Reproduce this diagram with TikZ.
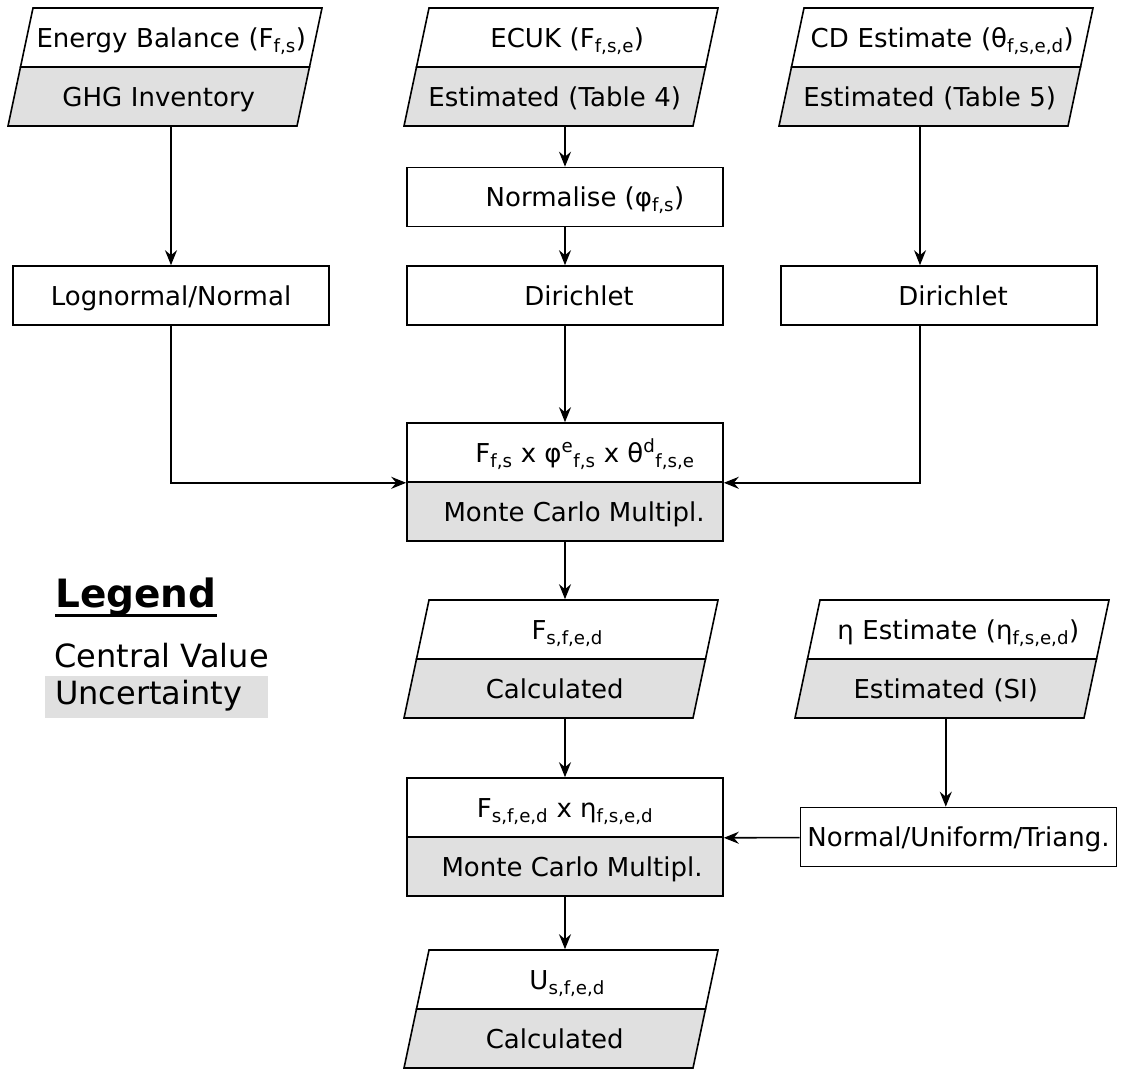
\documentclass[tikz,border=0pt]{standalone}
\usepackage{fontspec}
\setmainfont{DejaVu Sans}
\usetikzlibrary{shapes.geometric}
\usetikzlibrary{arrows.meta}
\usetikzlibrary{calc}
\definecolor{uncgray}{RGB}{224,224,224}
\tikzset{box/.style={rectangle,fill=white,draw=black,line width=1.6pt,inner sep=0pt,
minimum width=316pt, text height=39pt, text depth=20pt, font=\fontsize{26}{26}\selectfont},
unc/.style={box,fill=uncgray},
data/.style={shape=trapezium,trapezium left angle=78.04,trapezium right angle=101.96,
fill=white,draw=black,line width=1.6pt,inner sep=0pt,text width=276.5pt,align=center,
text height=39pt,text depth=20pt,font=\fontsize{26}{26}\selectfont},
dataunc/.style={data,fill=uncgray},
legtext/.style={anchor=base west,inner sep=0pt,font=\fontsize{32}{32}\selectfont},
link/.style={->,line width=1.6pt},
>={Stealth[length=15pt,width=12pt,inset=5pt]}}

\begin{document}
\begin{tikzpicture}[x=1pt,y=-1pt]
  \useasboundingbox (0,0) rectangle (1121,1068);

  \node (enval) [data] at (171.25,37.5) {\mbox{Energy Balance (F\textsubscript{f,s})}};
  \node (enunc) [dataunc] at (158.75,96.5) {GHG Inventory};
  \node (ecukval) [data] at (567.25,37.5) {ECUK (F\textsubscript{f,s,e})};
  \node (ecukunc) [dataunc] at (554.75,96.5) {Estimated (Table 4)};
  \node (cdval) [data] at (942.25,37.5) {\mbox{CD Estimate (θ\textsubscript{f,s,e,d})}};
  \node (cdunc) [dataunc] at (929.75,96.5) {Estimated (Table 5)};

  \node (norm) [box] at (565,197) {\hspace*{40pt}Normalise (φ\textsubscript{f,s})};
  \node (lognorm) [box] at (171,295.5) {Lognormal/Normal};
  \node (dira) [box] at (565,295.5) {\hspace*{28pt}Dirichlet};
  \node (dirb) [box] at (939,295.5) {\hspace*{28pt}Dirichlet};

  \node (mcaval) [box] at (565,452.5) {\hspace*{40pt}F\textsubscript{f,s} x φ\textsuperscript{e}\textsubscript{f,s} x θ\textsuperscript{d}\textsubscript{f,s,e}};
  \node (mcaunc) [unc] at (565,511.5) {\hspace*{18pt}Monte Carlo Multipl.};

  \node (fval) [data] at (567.25,629.5) {F\textsubscript{s,f,e,d}};
  \node (func) [dataunc] at (554.75,688.5) {Calculated};
  \node (etaval) [data] at (958.25,629.5) {η Estimate (η\textsubscript{f,s,e,d})};
  \node (etaunc) [dataunc] at (945.75,688.5) {Estimated (SI)};

  \node (triang) [box] at (958.5,837) {Normal/Uniform/Triang.};
  \node (mcbval) [box] at (565,807.5) {F\textsubscript{s,f,e,d} x η\textsubscript{f,s,e,d}};
  \node (mcbunc) [unc] at (565,866.5) {\hspace*{14pt}Monte Carlo Multipl.};

  \node (uval) [data] at (567.25,979.5) {U\textsubscript{s,f,e,d}};
  \node (uunc) [dataunc] at (554.75,1038.5) {Calculated};

  \node (legtitle) [legtext,font=\bfseries\fontsize{39}{39}\selectfont] at (55,607) {Legend};
  \draw [line width=3pt] (legtitle.south west) -- (legtitle.south east);
  \node (legcv) [legtext] at (54,667) {Central Value};
  \node (legunc) [legtext,anchor=north west,fill=uncgray,text width=203pt,align=left,
    inner xsep=10pt,inner ysep=3pt,text height=25pt,text depth=11pt] at (45,676) {Uncertainty};

  \coordinate (dirbin) at ([xshift=-19pt]dirb.north);
  \coordinate (dirbout) at ([xshift=-19pt]dirb.south);

  \draw [link] (lognorm.north |- enunc.south) -- (lognorm);
  \draw [link] (norm.north |- ecukunc.south) -- (norm);
  \draw [link] (norm) -- (dira);
  \draw [link] (dirbin |- cdunc.south) -- (dirbin);
  \draw [link] (lognorm) |- (mcaval.south west);
  \draw [link] (dira) -- (mcaval);
  \draw [link] (dirbout) |- (mcaval.south east);
  \draw [link] (mcaunc.south) -- (mcaunc.south |- fval.north);
  \draw [link] (etaunc.south) -- (etaunc.south |- triang.north);
  \draw [link] (triang) -- (mcbval.south east);
  \draw [link] (func.south -| mcbval.north) -- (mcbval.north);
  \draw [link] (mcbunc.south) -- (mcbunc.south |- uval.north);
\end{tikzpicture}
\end{document}
